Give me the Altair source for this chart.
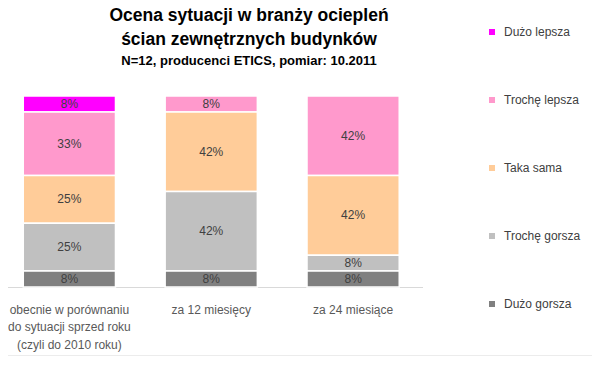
import altair as alt
import pandas as pd

# ---- data ----
categories = [
    "obecnie w porównaniu\ndo sytuacji sprzed roku\n(czyli do 2010 roku)",
    "za 12 miesięcy",
    "za 24 miesiące",
]
series = ["Dużo lepsza", "Trochę lepsza", "Taka sama", "Trochę gorsza", "Dużo gorsza"]
colors = ["#FF00FF", "#FF99CC", "#FFCC99", "#C0C0C0", "#808080"]

duzo_lepsza = [8.33, 0.0, 0.0]
troche_lepsza = [33.33, 8.33, 41.67]
taka_sama = [25.0, 41.67, 41.67]
troche_gorsza = [25.0, 41.67, 8.33]
duzo_gorsza = [8.33, 8.33, 8.33]

values_by_series = [duzo_lepsza, troche_lepsza, taka_sama, troche_gorsza, duzo_gorsza]

rows = []
for s_idx, (name, vals) in enumerate(zip(series, values_by_series)):
    for c, v in zip(categories, vals):
        rows.append({"cat": c, "series": name, "value": v, "rank": len(series) - s_idx})
df = pd.DataFrame(rows)

FONT = "Liberation Sans"

x_enc = alt.X(
    "cat:N",
    sort=categories,
    scale=alt.Scale(range=[-8, 414.5], paddingInner=0.35, paddingOuter=0.164),
    axis=alt.Axis(
        title=None,
        labelAngle=0,
        ticks=False,
        domainColor="#d9d9d9",
        domainWidth=1,
        labelFont=FONT,
        labelFontSize=12,
        labelColor="#595959",
        labelLineHeight=17.5,
        labelPadding=17,
        labelBaseline="top",
        labelExpr="split(datum.label, '\\n')",
    ),
)

base = alt.Chart(df).transform_stack(
    stack="value",
    groupby=["cat"],
    as_=["v0", "v1"],
    sort=[alt.SortField("rank", order="ascending")],
).transform_calculate(
    mid="(datum.v0 + datum.v1) / 2",
    label="format(datum.value, '.0f') + '%'",
)

bars = base.mark_bar(stroke="white", strokeWidth=1.5).encode(
    x=x_enc,
    y=alt.Y("v0:Q", scale=alt.Scale(domain=[0, 100]), axis=None),
    y2="v1:Q",
    color=alt.Color(
        "series:N",
        scale=alt.Scale(domain=series, range=colors),
        legend=alt.Legend(
            title=None,
            orient="none",
            legendX=478,
            legendY=-70,
            direction="vertical",
            symbolType="square",
            symbolSize=36,
            symbolStrokeWidth=0,
            labelFont=FONT,
            labelFontSize=12,
            labelColor="#404040",
            labelOffset=6,
            rowPadding=56,
            padding=0,
        ),
    ),
)

texts = base.transform_filter("datum.value > 0").mark_text(
    font=FONT, fontSize=12, color="#404040", baseline="middle"
).encode(
    x=alt.X("cat:N", sort=categories),
    y=alt.Y("mid:Q"),
    text="label:N",
)

frame_line = alt.Chart(pd.DataFrame({"k": [0]})).mark_rule(
    color="#d9d9d9", strokeWidth=1
).encode(x=alt.value(0), x2=alt.value(584), y=alt.value(260))

chart = alt.layer(bars, texts, frame_line).properties(
    width=584,
    height=191,
    padding={"left": 0, "top": 88, "right": 0, "bottom": 69},
    autosize=alt.AutoSizeParams(type="none"),
    title=alt.TitleParams(
        text=["Ocena sytuacji w branży ociepleń", "ścian zewnętrznych budynków"],
        subtitle="N=12, producenci ETICS, pomiar: 10.2011",
        font=FONT,
        fontSize=17.5,
        fontWeight="bold",
        color="#000000",
        lineHeight=23.5,
        subtitleFont=FONT,
        subtitleFontSize=13,
        subtitleFontWeight="bold",
        subtitleColor="#000000",
        subtitlePadding=7,
        anchor="middle",
        offset=0,
        dy=42,
        dx=-51,
    ),
).configure_view(stroke=None)

chart.save("out.html", embed_options={"renderer": "svg", "actions": False})
